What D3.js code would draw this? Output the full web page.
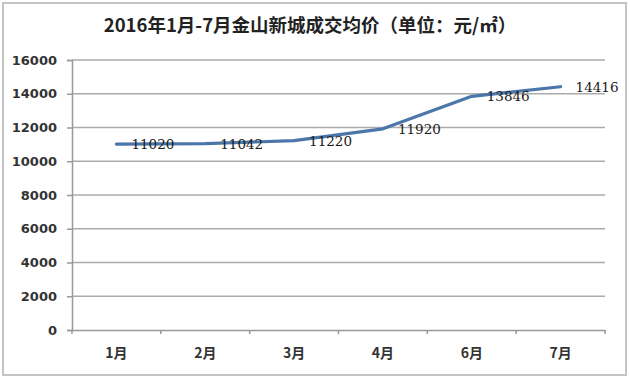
<!DOCTYPE html>
<html>
<head>
<meta charset="utf-8">
<script src="https://cdn.jsdelivr.net/npm/d3@7"></script>
<style>
  html, body { margin: 0; padding: 0; background: #fff; }
  svg { display: block; }
</style>
</head>
<body>
<svg id="chart" width="630" height="379"></svg>
<script>
const title = "2016年1月-7月金山新城成交均价（单位：元/㎡）";
const categories = ["1月", "2月", "3月", "4月", "6月", "7月"];
const prices = [11020, 11042, 11220, 11920, 13846, 14416];
const yTicks = [0, 2000, 4000, 6000, 8000, 10000, 12000, 14000, 16000];

const W = 630, H = 379;
const plot = { left: 72, right: 605, top: 60, bottom: 330 };
const svg = d3.select("#chart");

svg.append("rect")
  .attr("x", 3).attr("y", 3).attr("width", 623).attr("height", 372)
  .attr("fill", "#fff").attr("stroke", "#c4c4c4").attr("stroke-width", 2);

svg.append("text")
  .attr("x", 310).attr("y", 27)
  .attr("text-anchor", "middle").attr("dominant-baseline", "middle")
  .attr("font-family", "'Noto Sans CJK SC', sans-serif")
  .attr("font-weight", "bold").attr("font-size", 18.5)
  .attr("fill", "#222")
  .text(title);

const x = d3.scaleBand().domain(categories).range([plot.left, plot.right]).paddingInner(0).paddingOuter(0);
const y = d3.scaleLinear().domain([0, 16000]).range([plot.bottom, plot.top]);

// gridlines
svg.append("g").selectAll("line").data(yTicks.filter(d => d > 0)).join("line")
  .attr("x1", plot.left).attr("x2", plot.right)
  .attr("y1", d => y(d)).attr("y2", d => y(d))
  .attr("stroke", "#ababab").attr("stroke-width", 1.5);

// y axis
const yAxis = d3.axisLeft(y).tickValues(yTicks).tickSize(5).tickPadding(10).tickFormat(d3.format("d"));
const gy = svg.append("g").attr("transform", `translate(${plot.left},0)`).call(yAxis);
gy.select(".domain").attr("stroke", "#999").attr("stroke-width", 1.5);
gy.selectAll(".tick line").attr("stroke", "#999").attr("stroke-width", 1.5);
gy.selectAll(".tick text")
  .attr("font-family", "'DejaVu Sans', sans-serif").attr("font-weight", "bold")
  .attr("font-size", 13).attr("fill", "#333");

// x axis
const xAxis = d3.axisBottom(x).tickSize(0).tickPadding(18);
const gx = svg.append("g").attr("transform", `translate(0,${plot.bottom})`).call(xAxis);
gx.select(".domain").attr("stroke", "#999").attr("stroke-width", 1.5);
gx.selectAll(".tick text")
  .attr("font-family", "'Noto Sans CJK SC', sans-serif").attr("font-weight", "bold")
  .attr("font-size", 14).attr("fill", "#333");
// category boundary ticks
const bounds = categories.map(c => x(c)).concat([x(categories[categories.length - 1]) + x.bandwidth()]);
gx.selectAll("line.bt").data(bounds).join("line").attr("class", "bt")
  .attr("x1", d => d).attr("x2", d => d).attr("y1", 0).attr("y2", 4)
  .attr("stroke", "#999").attr("stroke-width", 1.5);

// line
const cx = d => x(d) + x.bandwidth() / 2;
const line = d3.line().x((d, i) => cx(categories[i])).y(d => y(d));
svg.append("path").datum(prices)
  .attr("d", line).attr("fill", "none")
  .attr("stroke", "#4a76a9").attr("stroke-width", 3.2)
  .attr("stroke-linejoin", "round").attr("stroke-linecap", "round");

// data labels
svg.append("g").selectAll("text").data(prices).join("text")
  .attr("x", (d, i) => cx(categories[i]) + 15)
  .attr("y", d => y(d) + 1.5)
  .attr("dominant-baseline", "middle")
  .attr("font-family", "'DejaVu Serif', serif")
  .attr("font-size", 13.5).attr("fill", "#1a1a1a")
  .text(d => d);
</script>
</body>
</html>
